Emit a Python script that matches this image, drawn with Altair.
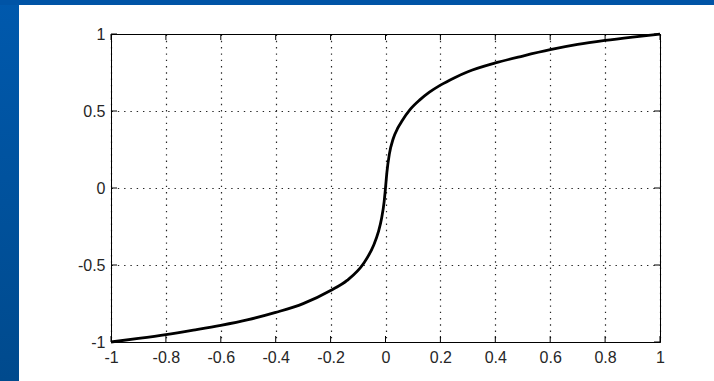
import altair as alt
import pandas as pd

# Companding characteristic: input level (x) against compressed output (y)
curve_x = [-1.0, -0.9, -0.8, -0.7, -0.6, -0.5, -0.4, -0.3, -0.2, -0.14, -0.08,
           -0.044, -0.026, -0.014, -0.005, 0.0, 0.005, 0.014, 0.028, 0.045, 0.06,
           0.09, 0.125, 0.16, 0.2, 0.25, 0.3, 0.4, 0.5, 0.6, 0.7, 0.8, 0.9, 1.0]
curve_y = [-1.0, -0.977, -0.952, -0.923, -0.892, -0.855, -0.808, -0.751, -0.666,
           -0.6, -0.49, -0.375, -0.285, -0.195, -0.09, 0.0, 0.1, 0.22, 0.32,
           0.39, 0.435, 0.51, 0.572, 0.622, 0.668, 0.715, 0.755, 0.812, 0.857,
           0.898, 0.932, 0.958, 0.98, 1.0]

# Tick positions
x_ticks = [-1.0, -0.8, -0.6, -0.4, -0.2, 0.0, 0.2, 0.4, 0.6, 0.8, 1.0]
y_ticks = [-1.0, -0.5, 0.0, 0.5, 1.0]

W, H = 549, 308
PAD = {"left": 111, "top": 34, "right": 54, "bottom": 39}
TICK_LEN = 6

curve_df = pd.DataFrame({"x": curve_x, "y": curve_y})
xt_df = pd.DataFrame({"x": x_ticks})
yt_df = pd.DataFrame({"y": y_ticks})
one = pd.DataFrame({"k": [0]})

label_expr = "(datum.value < 0 ? '-' : '') + format(abs(datum.value), '~g')"

x_scale = alt.Scale(domain=[-1, 1], nice=False, zero=False)
y_scale = alt.Scale(domain=[-1, 1], nice=False, zero=False)

x_axis = alt.Axis(values=x_ticks, title=None, ticks=False, tickSize=0, domain=False,
                  labelPadding=7, labelFlush=False, labelOverlap=False,
                  labelExpr=label_expr, grid=True)
y_axis = alt.Axis(values=y_ticks, title=None, ticks=False, tickSize=0, domain=False,
                  labelPadding=6, labelFlush=False, labelOverlap=False,
                  labelExpr=label_expr, grid=True)


def xq(field):
    return alt.X(f"{field}:Q", scale=x_scale, axis=x_axis)


def yq(field):
    return alt.Y(f"{field}:Q", scale=y_scale, axis=y_axis)


curve = alt.Chart(curve_df).mark_line(
    color="#000000", strokeWidth=2.8, interpolate="monotone", clip=False
).encode(x=xq("x"), y=yq("y"), order="x:Q")

# Inward tick marks on all four sides of the box
tick_style = dict(color="#000000", strokeWidth=1)
ticks_bottom = alt.Chart(xt_df).mark_rule(**tick_style).encode(
    x=xq("x"), y=alt.value(H), y2=alt.value(H - TICK_LEN))
ticks_top = alt.Chart(xt_df).mark_rule(**tick_style).encode(
    x=xq("x"), y=alt.value(0), y2=alt.value(TICK_LEN))
ticks_left = alt.Chart(yt_df).mark_rule(**tick_style).encode(
    y=yq("y"), x=alt.value(0), x2=alt.value(TICK_LEN))
ticks_right = alt.Chart(yt_df).mark_rule(**tick_style).encode(
    y=yq("y"), x=alt.value(W), x2=alt.value(W - TICK_LEN))

# Blue slide frame along the left and top edges
left_band = alt.Chart(one).mark_rect(
    color=alt.LinearGradient(
        gradient="linear",
        stops=[alt.GradientStop(color="#0059ad", offset=0),
               alt.GradientStop(color="#004a8d", offset=1)],
        x1=0, x2=0, y1=0, y2=1),
    clip=False,
).encode(x=alt.value(-PAD["left"]), x2=alt.value(-PAD["left"] + 19),
         y=alt.value(-PAD["top"]), y2=alt.value(H + PAD["bottom"]))
top_band = alt.Chart(one).mark_rect(color="#0054a6", clip=False).encode(
    x=alt.value(-PAD["left"]), x2=alt.value(W + PAD["right"]),
    y=alt.value(-PAD["top"]), y2=alt.value(-PAD["top"] + 5))

chart = alt.layer(
    ticks_bottom, ticks_top, ticks_left, ticks_right, curve, left_band, top_band
).properties(
    width=W, height=H, padding=PAD,
    autosize=alt.AutoSizeParams(type="none"),
    background="#ffffff",
).configure_view(
    stroke="#000000", strokeWidth=1, fill="#ffffff"
).configure_axis(
    labelFont="Liberation Sans", labelFontSize=16, labelColor="#262626",
    gridColor="#000000", gridDash=[1.4, 4.9], gridWidth=1.2, gridOpacity=0.85,
)

chart.save("out.html", embed_options={"renderer": "svg", "actions": False})
